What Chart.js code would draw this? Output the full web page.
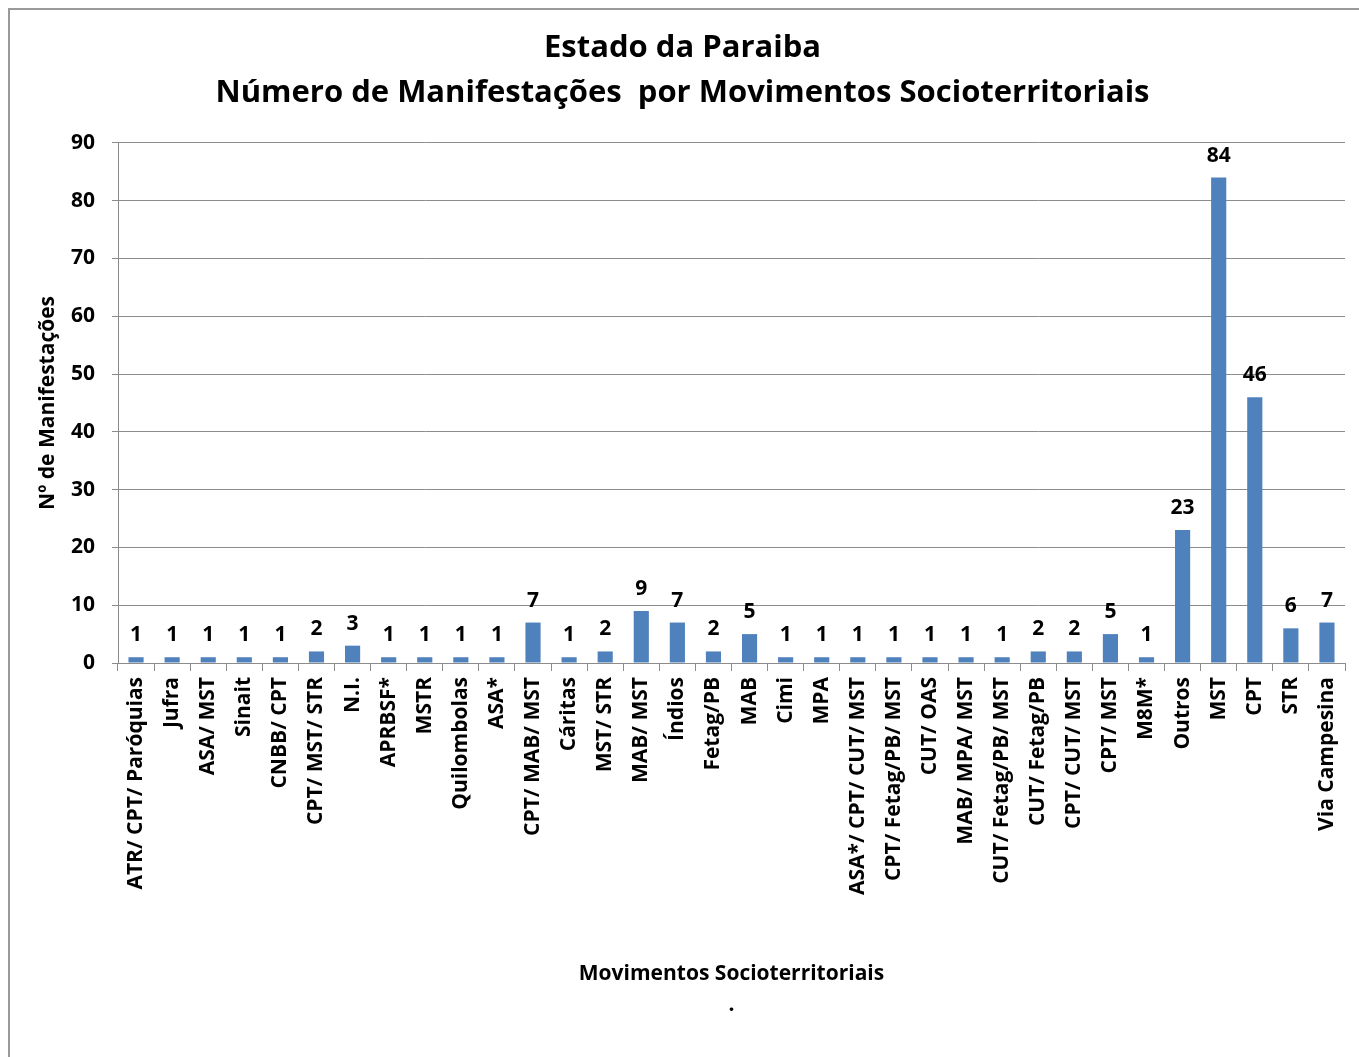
<!DOCTYPE html>
<html>
<head>
<meta charset="utf-8">
<script src="https://cdn.jsdelivr.net/npm/chart.js@4"></script>
<style>
  html, body { margin: 0; padding: 0; background: #fff; }
  #wrap { position: relative; width: 1359px; height: 1057px; }
</style>
</head>
<body>
<div id="wrap"><canvas id="grafico" width="1359" height="1057"></canvas></div>
<script>
// Movimentos e número de manifestações
const movimentos = [
  "ATR/ CPT/ Paróquias", "Jufra", "ASA/ MST", "Sinait", "CNBB/ CPT", "CPT/ MST/ STR",
  "N.I.", "APRBSF*", "MSTR", "Quilombolas", "ASA*", "CPT/ MAB/ MST", "Cáritas",
  "MST/ STR", "MAB/ MST", "Índios", "Fetag/PB", "MAB", "Cimi", "MPA",
  "ASA*/ CPT/ CUT/ MST", "CPT/ Fetag/PB/ MST", "CUT/ OAS", "MAB/ MPA/ MST",
  "CUT/ Fetag/PB/ MST", "CUT/ Fetag/PB", "CPT/ CUT/ MST", "CPT/ MST", "M8M*",
  "Outros", "MST", "CPT", "STR", "Via Campesina"
];
const manifestacoes = [
  1, 1, 1, 1, 1, 2,
  3, 1, 1, 1, 1, 7, 1,
  2, 9, 7, 2, 5, 1, 1,
  1, 1, 1, 1,
  1, 2, 2, 5, 1,
  23, 84, 46, 6, 7
];
const tituloLinhas = ["Estado da Paraiba", "Número de Manifestações  por Movimentos Socioterritoriais"];
const tituloEixoY = "Nº de Manifestações";
const tituloEixoX = ["Movimentos Socioterritoriais", "."];

const fonte = "'Open Sans', sans-serif";
const cinza = "#8c8c8c";

// moldura (só esquerda e topo visíveis)
const moldura = {
  id: "moldura",
  beforeDraw(chart) {
    const c = chart.ctx;
    c.save();
    c.strokeStyle = "#9a9a9a";
    c.lineWidth = 2;
    c.strokeRect(9, 9, 1400, 1100);
    c.restore();
  }
};

// valores acima das barras
const rotulos = {
  id: "rotulos",
  afterDatasetsDraw(chart) {
    const c = chart.ctx;
    const meta = chart.getDatasetMeta(0);
    c.save();
    c.font = "bold 21px " + fonte;
    c.fillStyle = "#000";
    c.textAlign = "center";
    c.textBaseline = "middle";
    meta.data.forEach((barra, i) => {
      c.fillText(String(manifestacoes[i]), barra.x, barra.y - 22);
    });
    c.restore();
  }
};

new Chart(document.getElementById("grafico"), {
  type: "bar",
  data: {
    labels: movimentos,
    datasets: [{
      data: manifestacoes,
      backgroundColor: "#4F81BD",
      borderWidth: 0,
      categoryPercentage: 1,
      barPercentage: 0.42
    }]
  },
  options: {
    responsive: false,
    animation: false,
    layout: { padding: { left: 20, right: 14, top: 0, bottom: 0 } },
    plugins: {
      legend: { display: false },
      tooltip: { enabled: false },
      title: {
        display: true,
        text: tituloLinhas,
        color: "#000",
        font: { family: fonte, size: 31, weight: "bold", lineHeight: 1.45 },
        padding: { top: 26, bottom: 27 }
      }
    },
    scales: {
      y: {
        min: 0,
        max: 90,
        ticks: {
          stepSize: 10,
          color: "#000",
          padding: 17,
          font: { family: fonte, size: 21, weight: "bold" }
        },
        grid: { color: cinza, lineWidth: 1, tickLength: 6, tickColor: cinza },
        border: { color: cinza, width: 1 },
        title: {
          display: true,
          text: tituloEixoY,
          color: "#000",
          font: { family: fonte, size: 21, weight: "bold" },
          padding: { top: 15, bottom: 0 }
        },
        afterFit(scale) { scale.width = 98; }
      },
      x: {
        ticks: {
          color: "#000",
          minRotation: 90,
          maxRotation: 90,
          autoSkip: false,
          padding: 6,
          font: { family: fonte, size: 21, weight: "bold" }
        },
        grid: { drawOnChartArea: false, offset: true, tickLength: 8, color: cinza, tickColor: cinza },
        border: { color: cinza, width: 1 },
        title: {
          display: true,
          text: tituloEixoX,
          color: "#000",
          font: { family: fonte, size: 21, weight: "bold", lineHeight: 1.45 },
          padding: { top: 0, bottom: 37 }
        },
        afterFit(scale) { scale.height = 1057 - 663; }
      }
    }
  },
  plugins: [moldura, rotulos]
});
</script>
</body>
</html>
